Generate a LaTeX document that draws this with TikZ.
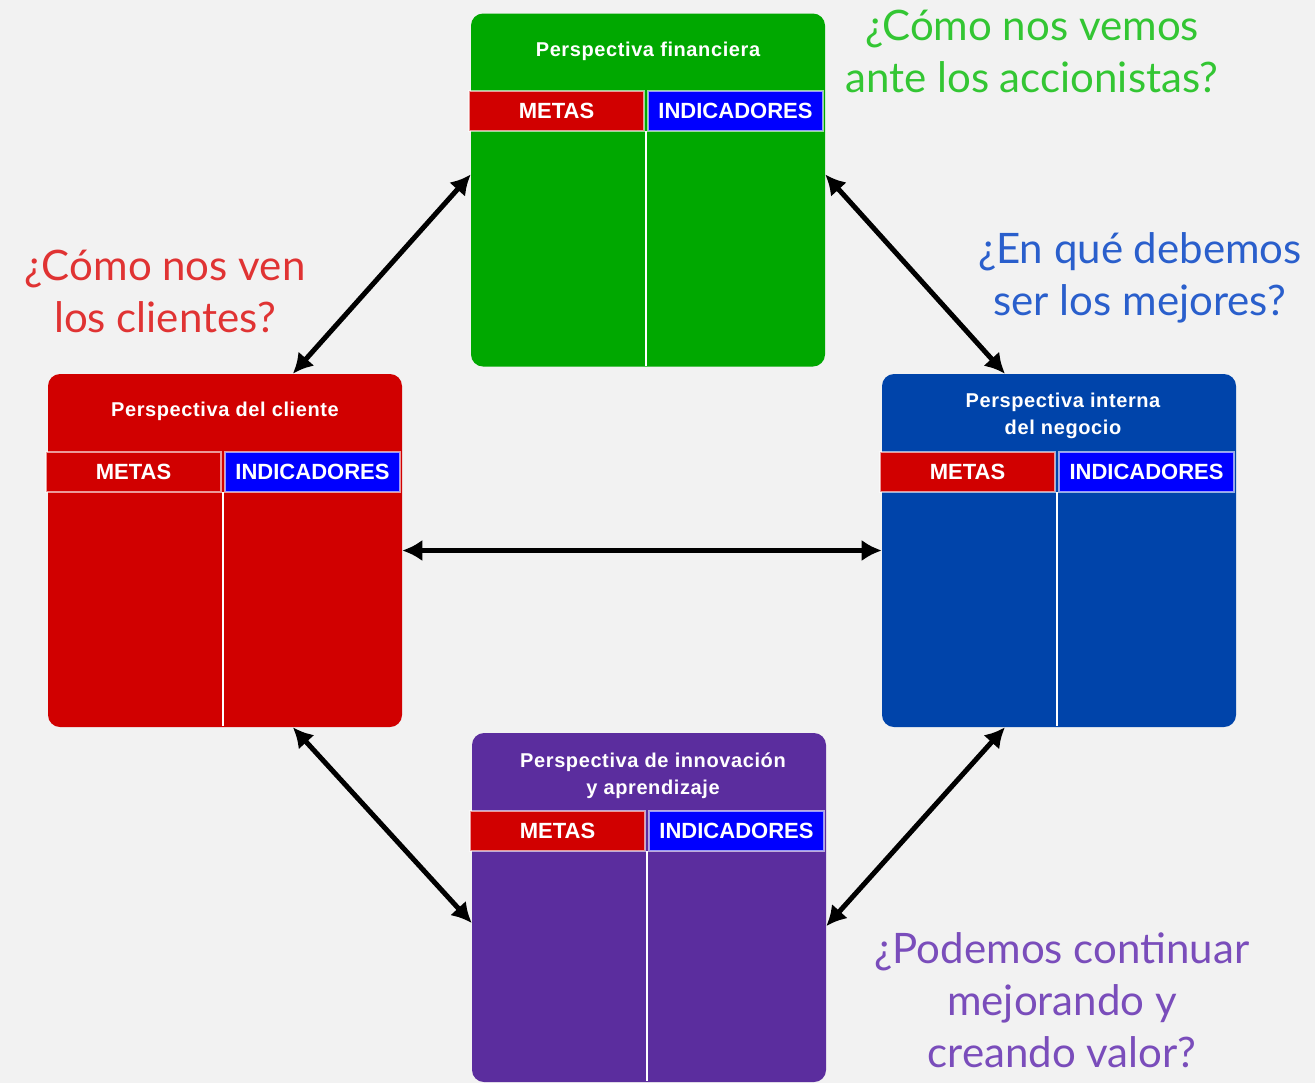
\documentclass[tikz,border=0pt]{standalone}
\usepackage{fontspec}
\setmainfont{Liberation Sans}
\newfontfamily\cajafont[LetterSpace=3]{Liberation Sans}
\newfontfamily\pregfont{Lato}
\usetikzlibrary{arrows.meta}
\usetikzlibrary{positioning}

\definecolor{fondo}{HTML}{F2F2F2}
\definecolor{verde}{HTML}{00A800}
\definecolor{rojo}{HTML}{D10000}
\definecolor{azul}{HTML}{0044AA}
\definecolor{morado}{HTML}{5B2D9E}
\definecolor{azulind}{HTML}{0000FF}
\definecolor{txtverde}{HTML}{33C633}
\definecolor{txtrojo}{HTML}{E03333}
\definecolor{txtazul}{HTML}{2A5FCC}
\definecolor{txtmorado}{HTML}{7A4DBB}

% fila METAS / INDICADORES y linea divisoria: nombre, izquierda, arriba, alto
\newcommand{\tabla}[4]{%
  \node[celda, fill=rojo] (#1met) at (#2+85.5,#3+98) {METAS};
  \node[celda, fill=azulind] (#1ind) at (#2+264.5,#3+98) {INDICADORES};
  \draw[divisor] (#2+175,#3+118) -- (#2+175,#3+#4-1);
}

\begin{document}
\begin{tikzpicture}[x=0.75pt, y=-0.75pt]
  \tikzset{
    caja/.style={rounded corners=9pt, minimum width=265.5pt, inner sep=0pt},
    titulo/.style={text=white, font=\cajafont\bfseries\fontsize{15}{20}\selectfont,
      align=center, inner sep=0pt},
    celda/.style={draw=white, draw opacity=0.6, line width=0.8pt, minimum width=131.25pt,
      minimum height=30pt, inner sep=0pt, text=white,
      font=\bfseries\fontsize{16.5}{20}\selectfont},
    divisor/.style={draw=white!85, line width=2.2pt},
    flecha/.style={{Latex[length=15pt,width=16pt]}-{Latex[length=15pt,width=16pt]},
      line width=3.75pt, black},
    pregunta/.style={font=\pregfont\fontsize{31.5}{39}\selectfont, align=center,
      inner sep=0pt},
  }
  \fill[fondo] (0,0) rectangle (1315,1083);

  % cajas
  \node[caja, fill=verde, minimum height=264.75pt] (fin) at (648,190) {};
  \node[titulo] (finT) at (648,51) {Perspectiva financiera};
  \tabla{fin}{471}{13}{354}

  \node[caja, fill=rojo, minimum height=264.75pt] (cli) at (225,550.5) {};
  \node[titulo] (cliT) at (225,411) {Perspectiva del cliente};
  \tabla{cli}{48}{374}{353}

  \node[caja, fill=azul, minimum height=264.75pt] (int) at (1059,550.5) {};
  \node[titulo] (intT) at (1063,416) {Perspectiva interna\\del negocio};
  \tabla{int}{882}{374}{353}

  \node[caja, fill=morado, minimum height=261.75pt] (inn) at (649,907.5) {};
  \node[titulo] (innT) at (653,776) {Perspectiva de innovación\\y aprendizaje};
  \tabla{inn}{472}{733}{349}

  % preguntas
  \node[pregunta, text=txtverde] (qfin) at (1032,51) {¿Cómo nos vemos\\ante los accionistas?};
  \node[pregunta, text=txtrojo] (qcli) at (165,291) {¿Cómo nos ven\\los clientes?};
  \node[pregunta, text=txtazul] (qint) at (1140,278) {¿En qué debemos\\ser los mejores?};
  \node[pregunta, text=txtmorado] (qinn) at (1062,1000) {¿Podemos continuar\\mejorando y\\creando valor?};

  % flechas
  \draw[flecha] (cli.69) -- (fin.175);
  \draw[flecha] (fin.5) -- (int.107);
  \draw[flecha] (cli.east) -- (int.west);
  \draw[flecha] (cli.291) -- (inn.185);
  \draw[flecha] (inn.354) -- (int.253);
\end{tikzpicture}
\end{document}
